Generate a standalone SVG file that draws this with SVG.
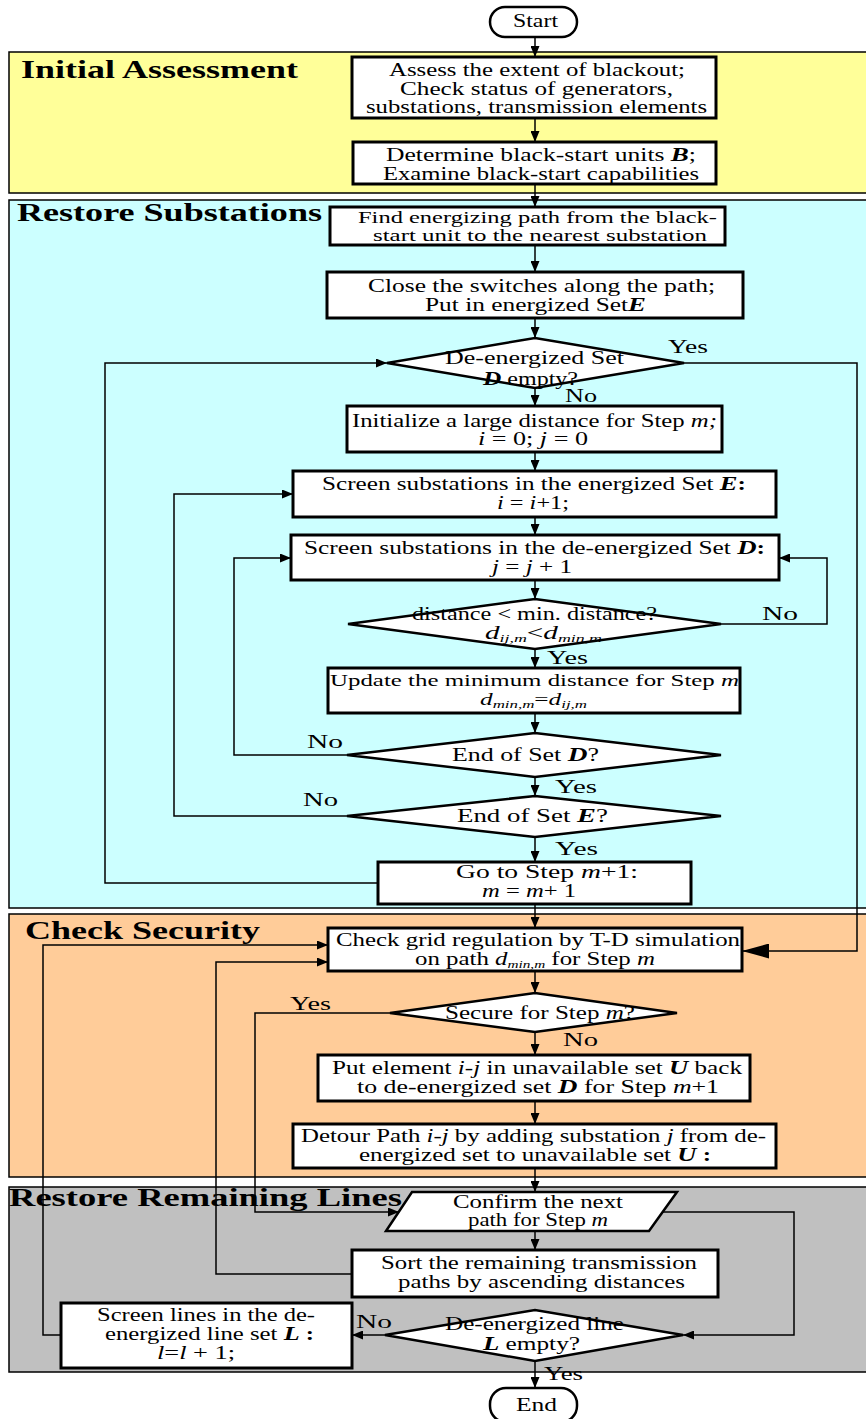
<svg xmlns="http://www.w3.org/2000/svg" width="866" height="1419" viewBox="0 0 866 1419">
<style>
.band{stroke:#000;stroke-width:1.5}
.box{fill:#fff;stroke:#000;stroke-width:3}
.dia{fill:#fff;stroke:#000;stroke-width:2.5}
.c{fill:none;stroke:#000;stroke-width:1.5}
.ca{fill:none;stroke:#000;stroke-width:1.5;marker-end:url(#ah)}
.cb{fill:none;stroke:#000;stroke-width:1.5;marker-end:url(#ahb)}
text{font-family:"Liberation Serif","Times New Roman",serif;font-size:18px;fill:#000}
.sm{font-size:16.5px}
.h{font-weight:bold;font-size:25px}
.s{font-weight:bold;font-style:italic;font-size:19px}
.i{font-style:italic}
.sub{font-size:11px;font-style:italic}
</style>
<defs>
<marker id="ah" markerUnits="userSpaceOnUse" markerWidth="12" markerHeight="9" refX="11" refY="4.5" orient="auto">
<path d="M0,0 L11,4.5 L0,9 z" fill="#000"/>
</marker>
<marker id="ahb" markerUnits="userSpaceOnUse" markerWidth="28" markerHeight="15" refX="27" refY="7.5" orient="auto">
<path d="M0,0 L27,7.5 L0,15 z" fill="#000"/>
</marker>
</defs>

<g id="bands">
<rect class="band" x="9" y="52" width="870" height="141" fill="#FFFF99"/>
<rect class="band" x="9" y="200" width="870" height="708" fill="#CCFFFF"/>
<rect class="band" x="9" y="914" width="870" height="263" fill="#FFCC99"/>
<rect class="band" x="9" y="1187" width="870" height="185" fill="#C0C0C0"/>
<text class="h" x="21" y="78" textLength="277" lengthAdjust="spacingAndGlyphs">Initial Assessment</text>
<text class="h" x="17" y="221" textLength="305" lengthAdjust="spacingAndGlyphs">Restore Substations</text>
<text class="h" x="25" y="939" textLength="235" lengthAdjust="spacingAndGlyphs">Check Security</text>
<text class="h" x="9" y="1206" textLength="393" lengthAdjust="spacingAndGlyphs">Restore Remaining Lines</text>
</g>

<g id="connectors">
<path class="ca" d="M535,37 V57"/>
<path class="ca" d="M535,118 V142"/>
<path class="ca" d="M535,184 V207"/>
<path class="ca" d="M535,245 V272"/>
<path class="ca" d="M535,318 V338"/>
<path class="ca" d="M535,388 V406"/>
<path class="ca" d="M535,452 V471"/>
<path class="ca" d="M535,517 V535"/>
<path class="ca" d="M535,580 V599"/>
<path class="ca" d="M535,649 V668"/>
<path class="ca" d="M535,713 V733"/>
<path class="ca" d="M535,777 V796"/>
<path class="ca" d="M535,837 V862"/>
<path class="ca" d="M535,904 V928"/>
<path class="ca" d="M535,971 V993"/>
<path class="ca" d="M535,1032 V1055"/>
<path class="ca" d="M535,1101 V1124"/>
<path class="ca" d="M535,1168 V1192"/>
<path class="ca" d="M535,1231 V1250"/>
<path class="ca" d="M535,1361 V1388"/>
<path class="cb" d="M684,363 H857 V951 H742"/>
<path class="ca" d="M378,883 H105 V363 H387"/>
<path class="ca" d="M347,816 H174 V494 H293"/>
<path class="ca" d="M347,755 H234 V558 H291"/>
<path class="ca" d="M721,624 H827 V558 H779"/>
<path class="ca" d="M390,1013 H255 V1212 H399"/>
<path class="ca" d="M663,1212 H794 V1335 H683"/>
<path class="ca" d="M352,1274 H216 V962 H328"/>
<path class="ca" d="M385,1335 H352"/>
<path class="ca" d="M61,1335 H43 V945 H328"/>
</g>

<g id="labels">
<text x="668" y="353" textLength="40" lengthAdjust="spacingAndGlyphs">Yes</text>
<text x="565" y="402" textLength="32" lengthAdjust="spacingAndGlyphs">No</text>
<text x="762" y="620" textLength="36" lengthAdjust="spacingAndGlyphs">No</text>
<text x="547" y="664" textLength="41" lengthAdjust="spacingAndGlyphs">Yes</text>
<text x="307" y="748" textLength="36" lengthAdjust="spacingAndGlyphs">No</text>
<text x="555" y="793" textLength="42" lengthAdjust="spacingAndGlyphs">Yes</text>
<text x="303" y="806" textLength="35" lengthAdjust="spacingAndGlyphs">No</text>
<text x="555" y="855" textLength="43" lengthAdjust="spacingAndGlyphs">Yes</text>
<text x="290" y="1010" textLength="41" lengthAdjust="spacingAndGlyphs">Yes</text>
<text x="563" y="1046" textLength="35" lengthAdjust="spacingAndGlyphs">No</text>
<text x="356" y="1328" textLength="36" lengthAdjust="spacingAndGlyphs">No</text>
<text x="544" y="1380" textLength="39" lengthAdjust="spacingAndGlyphs">Yes</text>
</g>

<g id="start">
<rect x="490" y="7" width="87" height="30" rx="15" fill="#fff" stroke="#000" stroke-width="2.5"/>
<text x="513" y="27" textLength="45" lengthAdjust="spacingAndGlyphs">Start</text>
</g>

<g id="assess">
<rect class="box" x="352" y="57" width="364" height="61"/>
<text x="389" y="76" textLength="296" lengthAdjust="spacingAndGlyphs">Assess the extent of blackout;</text>
<text x="400" y="95" textLength="273" lengthAdjust="spacingAndGlyphs">Check status of generators,</text>
<text x="366" y="113" textLength="341" lengthAdjust="spacingAndGlyphs">substations, transmission elements</text>
</g>

<g id="blackstart">
<rect class="box" x="353" y="142" width="363" height="42"/>
<text x="386" y="161" textLength="310" lengthAdjust="spacingAndGlyphs">Determine black-start units <tspan class="s">B</tspan>;</text>
<text x="383" y="180" textLength="316" lengthAdjust="spacingAndGlyphs">Examine black-start capabilities</text>
</g>

<g id="findpath">
<rect class="box" x="330" y="207" width="395" height="38"/>
<text class="sm" x="358" y="223" textLength="359" lengthAdjust="spacingAndGlyphs">Find energizing path from the black-</text>
<text class="sm" x="373" y="241" textLength="334" lengthAdjust="spacingAndGlyphs">start unit to the nearest substation</text>
</g>

<g id="closeswitch">
<rect class="box" x="327" y="272" width="416" height="46"/>
<text x="368" y="292" textLength="347" lengthAdjust="spacingAndGlyphs">Close the switches along the path;</text>
<text x="425" y="311" textLength="221" lengthAdjust="spacingAndGlyphs">Put in energized Set<tspan class="s">E</tspan></text>
</g>

<g id="dempty">
<polygon class="dia" points="387,363 535,338 684,363 535,388"/>
<text x="445" y="364" textLength="179" lengthAdjust="spacingAndGlyphs">De-energized Set</text>
<text x="483" y="385" textLength="95" lengthAdjust="spacingAndGlyphs"><tspan class="s" font-size="18px">D</tspan> empty?</text>
</g>

<g id="init">
<rect class="box" x="347" y="406" width="375" height="46"/>
<text x="352" y="427" textLength="365" lengthAdjust="spacingAndGlyphs">Initialize a large distance for Step <tspan class="i">m;</tspan></text>
<text x="478" y="445" textLength="110" lengthAdjust="spacingAndGlyphs"><tspan class="i">i</tspan> = 0; <tspan class="i">j</tspan> = 0</text>
</g>

<g id="screenE">
<rect class="box" x="293" y="471" width="483" height="46"/>
<text x="322" y="490" textLength="424" lengthAdjust="spacingAndGlyphs">Screen substations in the energized Set <tspan class="s">E</tspan><tspan font-weight="bold">:</tspan></text>
<text x="497" y="509" textLength="72" lengthAdjust="spacingAndGlyphs"><tspan class="i">i</tspan> = <tspan class="i">i</tspan>+1;</text>
</g>

<g id="screenD">
<rect class="box" x="291" y="535" width="488" height="45"/>
<text x="304" y="554" textLength="461" lengthAdjust="spacingAndGlyphs">Screen substations in the de-energized Set <tspan class="s">D</tspan><tspan font-weight="bold">:</tspan></text>
<text x="492" y="573" textLength="80" lengthAdjust="spacingAndGlyphs"><tspan class="i">j</tspan> = <tspan class="i">j</tspan> + 1</text>
</g>

<g id="mindist">
<polygon class="dia" points="348,624 535,599 721,624 535,649"/>
<text x="412" y="620" textLength="245" lengthAdjust="spacingAndGlyphs">distance &lt; min. distance?</text>
<text x="485" y="639" textLength="117" lengthAdjust="spacingAndGlyphs"><tspan class="i">d</tspan><tspan class="sub" dy="3">ij,m</tspan><tspan dy="-3">&lt;</tspan><tspan class="i">d</tspan><tspan class="sub" dy="3">min,m</tspan></text>
</g>

<g id="update">
<rect class="box" x="328" y="668" width="412" height="45"/>
<text class="sm" x="330" y="686" textLength="409" lengthAdjust="spacingAndGlyphs">Update the minimum distance for Step <tspan class="i">m</tspan></text>
<text class="sm" x="480" y="705" textLength="107" lengthAdjust="spacingAndGlyphs"><tspan class="i">d</tspan><tspan class="sub" dy="3">min,m</tspan><tspan dy="-3">=</tspan><tspan class="i">d</tspan><tspan class="sub" dy="3">ij,m</tspan></text>
</g>

<g id="endD">
<polygon class="dia" points="347,755 535,733 721,755 535,777"/>
<text x="452" y="761" textLength="147" lengthAdjust="spacingAndGlyphs">End of Set <tspan class="s">D</tspan>?</text>
</g>

<g id="endE">
<polygon class="dia" points="347,816 535,796 721,816 535,837"/>
<text x="457" y="822" textLength="151" lengthAdjust="spacingAndGlyphs">End of Set <tspan class="s">E</tspan>?</text>
</g>

<g id="nextstep">
<rect class="box" x="378" y="862" width="313" height="42"/>
<text x="456" y="878" textLength="182" lengthAdjust="spacingAndGlyphs">Go to Step <tspan class="i">m</tspan>+1:</text>
<text x="482" y="897" textLength="94" lengthAdjust="spacingAndGlyphs"><tspan class="i">m</tspan> = <tspan class="i">m</tspan>+ 1</text>
</g>

<g id="checkgrid">
<rect class="box" x="328" y="928" width="414" height="43"/>
<text x="336" y="946" textLength="404" lengthAdjust="spacingAndGlyphs">Check grid regulation by T-D simulation</text>
<text x="415" y="965" textLength="240" lengthAdjust="spacingAndGlyphs">on path <tspan class="i">d</tspan><tspan class="sub" dy="3">min,m</tspan><tspan dy="-3"> for Step </tspan><tspan class="i">m</tspan></text>
</g>

<g id="secure">
<polygon class="dia" points="390,1013 535,993 677,1013 535,1032"/>
<text x="445" y="1019" textLength="190" lengthAdjust="spacingAndGlyphs">Secure for Step <tspan class="i">m</tspan>?</text>
</g>

<g id="putback">
<rect class="box" x="318" y="1055" width="432" height="46"/>
<text x="332" y="1074" textLength="410" lengthAdjust="spacingAndGlyphs">Put element <tspan class="i">i-j</tspan> in unavailable set <tspan class="s">U</tspan> back</text>
<text x="357" y="1093" textLength="362" lengthAdjust="spacingAndGlyphs">to de-energized set <tspan class="s">D</tspan>  for Step <tspan class="i">m</tspan>+1</text>
</g>

<g id="detour">
<rect class="box" x="293" y="1124" width="483" height="44"/>
<text x="301" y="1142" textLength="465" lengthAdjust="spacingAndGlyphs">Detour Path <tspan class="i">i-j</tspan> by adding substation <tspan class="i">j</tspan> from de-</text>
<text x="359" y="1161" textLength="352" lengthAdjust="spacingAndGlyphs">energized set to unavailable set <tspan class="s">U</tspan><tspan font-weight="bold"> :</tspan></text>
</g>

<g id="confirm">
<polygon class="dia" points="412,1192 677,1192 649,1231 386,1231"/>
<text x="453" y="1208" textLength="170" lengthAdjust="spacingAndGlyphs">Confirm the next</text>
<text x="468" y="1226" textLength="140" lengthAdjust="spacingAndGlyphs">path for Step <tspan class="i">m</tspan></text>
</g>

<g id="sort">
<rect class="box" x="352" y="1250" width="366" height="47"/>
<text x="381" y="1269" textLength="316" lengthAdjust="spacingAndGlyphs">Sort the remaining transmission</text>
<text x="398" y="1288" textLength="287" lengthAdjust="spacingAndGlyphs">paths by ascending distances</text>
</g>

<g id="screenL">
<rect class="box" x="61" y="1303" width="291" height="65"/>
<text x="97" y="1321" textLength="218" lengthAdjust="spacingAndGlyphs">Screen lines in the de-</text>
<text x="105" y="1340" textLength="209" lengthAdjust="spacingAndGlyphs">energized line set <tspan class="s">L</tspan><tspan font-weight="bold"> :</tspan></text>
<text x="157" y="1359" textLength="78" lengthAdjust="spacingAndGlyphs"><tspan class="i">l</tspan>=<tspan class="i">l</tspan> + 1;</text>
</g>

<g id="lempty">
<polygon class="dia" points="385,1335 535,1310 683,1335 535,1361"/>
<text x="445" y="1330" textLength="179" lengthAdjust="spacingAndGlyphs">De-energized line</text>
<text x="483" y="1350" textLength="97" lengthAdjust="spacingAndGlyphs"><tspan class="s">L</tspan> empty?</text>
</g>

<g id="end">
<rect x="490" y="1388" width="87" height="34" rx="16" fill="#fff" stroke="#000" stroke-width="2.5"/>
<text x="516" y="1411" textLength="41" lengthAdjust="spacingAndGlyphs">End</text>
</g>
</svg>
